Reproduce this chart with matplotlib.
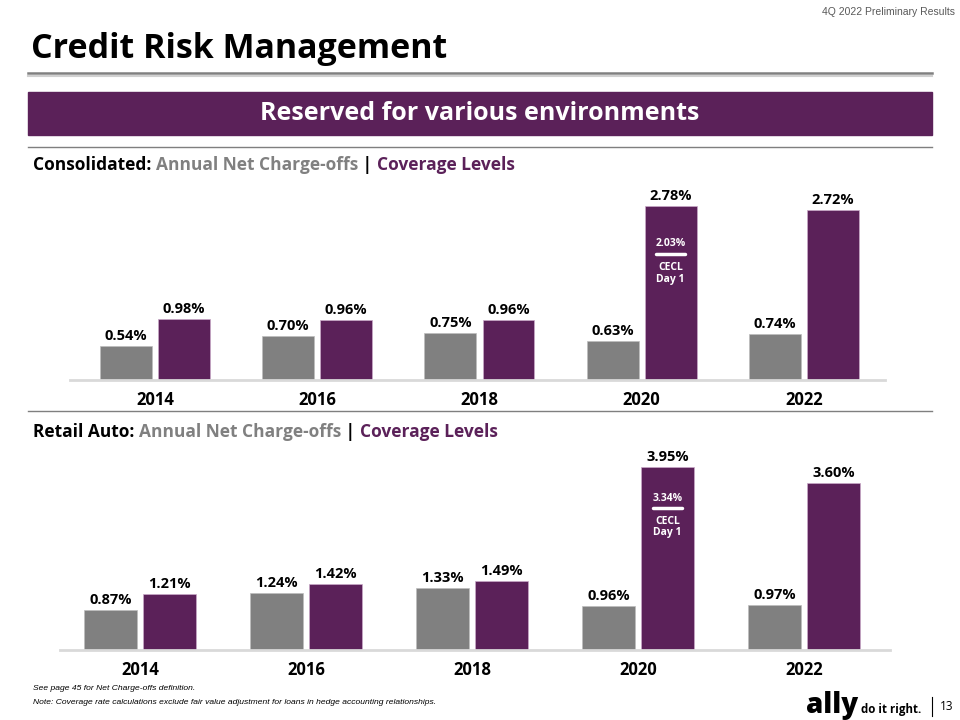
import matplotlib.pyplot as plt
import matplotlib.transforms as mtransforms
import numpy as np

# Data
years = ["2014", "2016", "2018", "2020", "2022"]
cons_nco = [0.54, 0.70, 0.75, 0.63, 0.74]
cons_cov = [0.98, 0.96, 0.96, 2.78, 2.72]
cons_cecl = 2.03
auto_nco = [0.87, 1.24, 1.33, 0.96, 0.97]
auto_cov = [1.21, 1.42, 1.49, 3.95, 3.60]
auto_cecl = 3.34

PURPLE = "#5B2159"
GRAY = "#808080"
FONT = "Open Sans"
W, H = 960, 720

fig = plt.figure(figsize=(9.6, 7.2), dpi=100)


def fx(x):
    return x / W


def fy(y):
    return 1 - y / H


def hline(y, x0, x1, color, lw):
    fig.add_artist(plt.Line2D([fx(x0), fx(x1)], [fy(y), fy(y)], color=color, lw=lw,
                              transform=fig.transFigure))


# Header
fig.text(fx(955), fy(12), "4Q 2022 Preliminary Results", ha="right", va="center",
         fontsize=7.5, color="#595959", family="Liberation Sans")
fig.text(fx(31), fy(49), "Credit Risk Management", ha="left", va="center",
         fontsize=24.5, fontweight="bold", family=FONT, color="black")
hline(73, 28, 932, "#808080", 1.8)
hline(75.5, 28, 932, "#d0d0d0", 1.5)

# Banner
fig.add_artist(plt.Rectangle((fx(28), fy(135)), fx(904), 43 / H, color=PURPLE,
                             transform=fig.transFigure))
fig.text(fx(480), fy(113), "Reserved for various environments", ha="center", va="center",
         fontsize=18, fontweight="bold", family=FONT, color="white")

hline(147, 28, 932, "#7f7f7f", 1.0)
hline(411, 28, 932, "#7f7f7f", 1.0)


def subtitle(y, first):
    parts = [("Annual Net Charge-offs", GRAY), (" | ", "black"), ("Coverage Levels", PURPLE)]
    prev = fig.text(fx(33), fy(y), first + " ", ha="left", va="bottom", fontsize=12.5,
                    fontweight="bold", family=FONT, color="black")
    for txt, col in parts:
        prev = fig.add_artist(plt.Annotation(txt, xy=(1, 0), xycoords=prev, va="bottom",
                                             ha="left", fontsize=12.5, fontweight="bold",
                                             family=FONT, color=col))


subtitle(174, "Consolidated:")
subtitle(441, "Retail Auto:")


def chart(rect_px, xlim, ylim, nco, cov, cecl, width, off, cecl_offsets):
    x0, y0, x1, y1 = rect_px
    ax = fig.add_axes([fx(x0), fy(y1), (x1 - x0) / W, (y1 - y0) / H])
    x = np.arange(len(years))
    ax.bar(x - off, nco, width, color=GRAY, edgecolor="#bdbdbd", linewidth=0.5)
    ax.bar(x + off, cov, width, color=PURPLE, edgecolor="#c9a9c8", linewidth=0.5)
    for xi, v in zip(x, nco):
        ax.annotate(f"{v:.2f}%", (xi - off, v), xytext=(0, 3), textcoords="offset pixels",
                    ha="center", va="bottom", fontsize=10.5, fontweight="bold", family=FONT)
    for xi, v in zip(x, cov):
        ax.annotate(f"{v:.2f}%", (xi + off, v), xytext=(0, 3), textcoords="offset pixels",
                    ha="center", va="bottom", fontsize=10.5, fontweight="bold", family=FONT)
    # CECL Day 1 callout in 2020 coverage bar
    i = years.index("2020")
    xc = i + off
    top = cov[i]
    t_off, l_off, c_off, d_off = cecl_offsets
    ax.annotate(f"{cecl:.2f}%", (xc, top), xytext=(0, -t_off), textcoords="offset pixels",
                ha="center", va="center", fontsize=7.5, fontweight="bold", family=FONT,
                color="white")
    tr = mtransforms.offset_copy(ax.transData, fig=fig, x=0, y=-l_off, units="dots")
    ax.plot([xc - width * 0.28, xc + width * 0.28], [top, top], color="white", lw=2.5,
            solid_capstyle="round", transform=tr)
    ax.annotate("CECL", (xc, top), xytext=(0, -c_off), textcoords="offset pixels",
                ha="center", va="center", fontsize=7.5, fontweight="bold", family=FONT,
                color="white")
    ax.annotate("Day 1", (xc, top), xytext=(0, -d_off), textcoords="offset pixels",
                ha="center", va="center", fontsize=7.5, fontweight="bold", family=FONT,
                color="white")
    ax.set_xlim(*xlim)
    ax.set_ylim(*ylim)
    for s in ["top", "right", "left"]:
        ax.spines[s].set_visible(False)
    ax.spines["bottom"].set_color("#d9d9d9")
    ax.spines["bottom"].set_linewidth(2)
    ax.set_yticks([])
    ax.set_xticks(x)
    ax.set_xticklabels(years, fontsize=12, fontweight="bold", family=FONT)
    ax.tick_params(axis="x", length=0, pad=8)
    ax.patch.set_alpha(0)
    return ax


chart((70, 190, 885, 380), (-0.524, 4.5), (0, 3.035), cons_nco, cons_cov, cons_cecl,
      0.32, 0.179, (38, 48, 62, 74))
chart((60, 450, 890, 650), (-0.482, 4.518), (0, 4.32), auto_nco, auto_cov, auto_cecl,
      0.32, 0.178, (31, 41, 54, 65))

# Footnotes
fig.text(fx(33), fy(688), "See page 45 for Net Charge-offs definition.", ha="left",
         va="center", fontsize=6.1, style="italic", family="Liberation Sans")
fig.text(fx(33), fy(702),
         "Note: Coverage rate calculations exclude fair value adjustment for loans in hedge accounting relationships.",
         ha="left", va="center", fontsize=6.1, style="italic", family="Liberation Sans")

# Logo
fig.text(fx(858), fy(713), "ally", ha="right", va="baseline", fontsize=20,
         fontweight="heavy", family=FONT)
fig.text(fx(861), fy(713), "do it right.", ha="left", va="baseline", fontsize=8.3,
         fontweight="bold", family=FONT)
fig.add_artist(plt.Line2D([fx(932), fx(932)], [fy(697), fy(716)], color="black", lw=0.8,
                          transform=fig.transFigure))
fig.text(fx(940), fy(707), "13", ha="left", va="center", fontsize=8.5, family=FONT)

fig.savefig("out.png", dpi=100)
